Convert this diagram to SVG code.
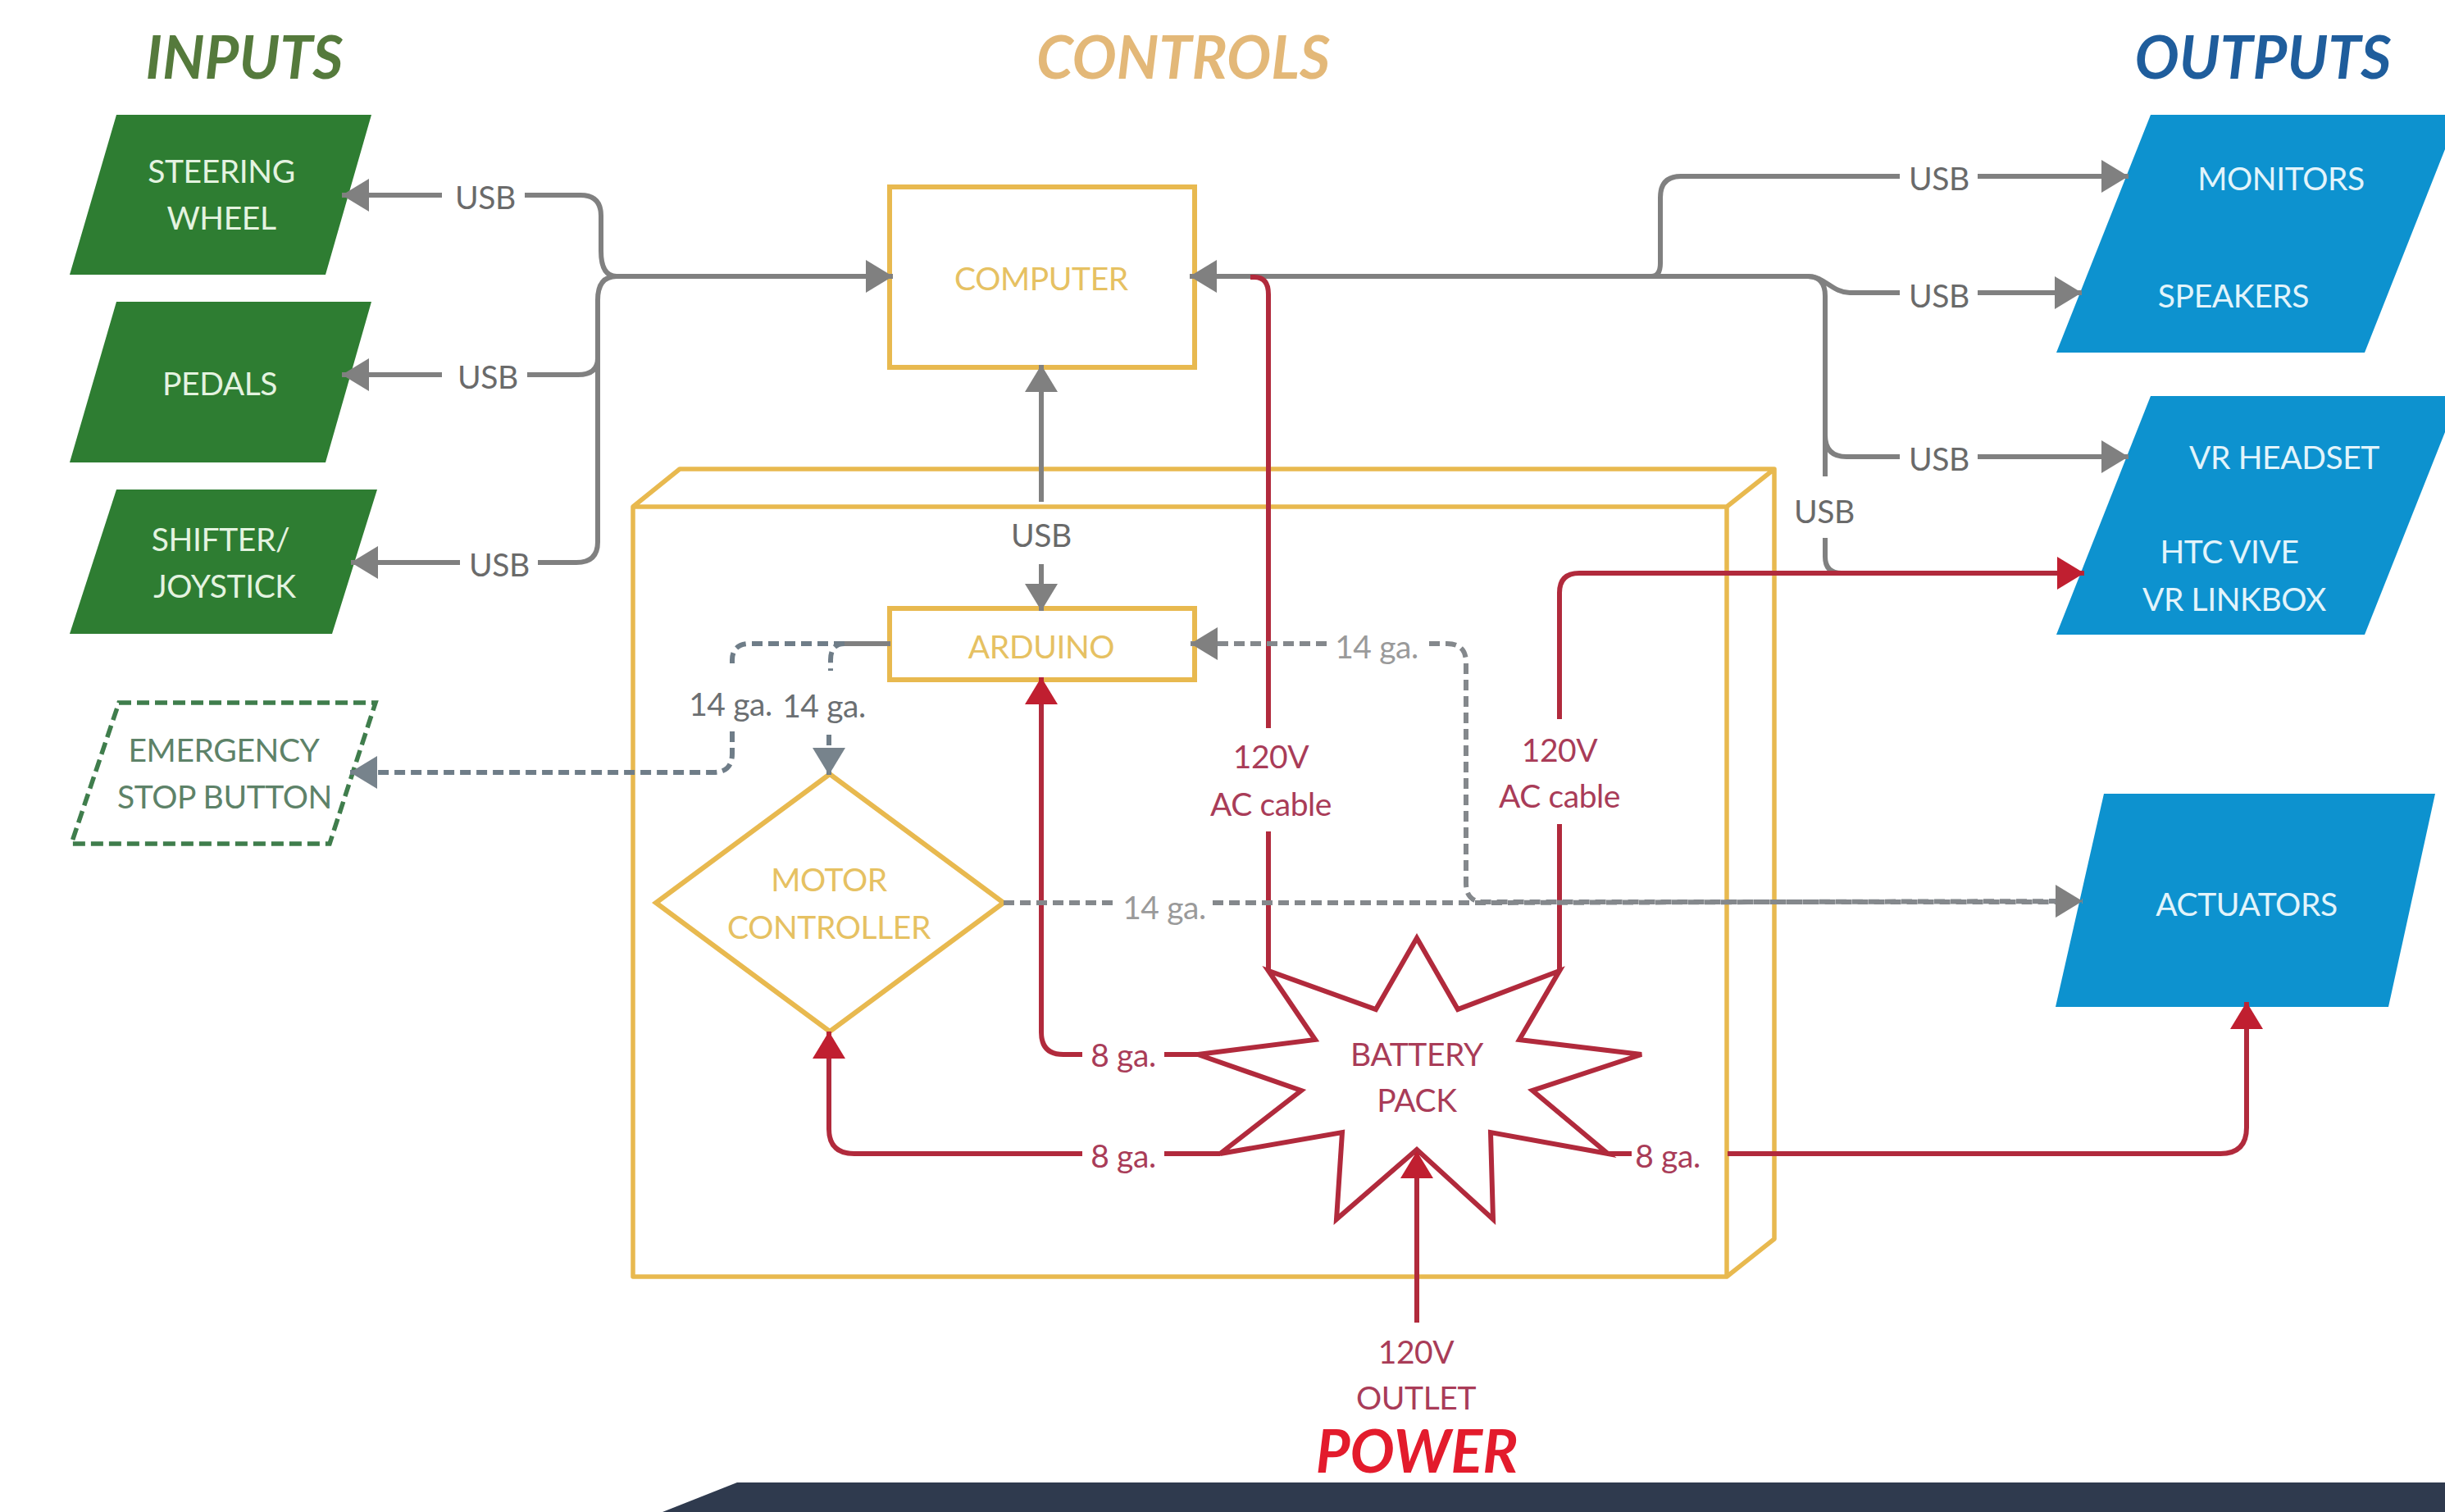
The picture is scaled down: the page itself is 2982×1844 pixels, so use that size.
<svg xmlns="http://www.w3.org/2000/svg" width="2982" height="1844" viewBox="0 0 2982 1844">
<style>
text{font-family:Lato,"Open Sans","Liberation Sans",sans-serif;font-size:39px;letter-spacing:-.4px;text-anchor:middle;transform:translateY(.5px)}
.title{font-size:72px;font-style:italic;font-weight:700;letter-spacing:0;transform:none}
.lt{fill:#e4f3e0}.lb{fill:#e2f4fb}.y{fill:#e6c162}.g{fill:#6a6a6a}.lg{fill:#9a9a9a}.dg{fill:#6b6f72}.r{fill:#a93c58}.eg{fill:#5d8268}
.gl,.rl,.dl,.bl{fill:none;stroke-width:6;stroke-linejoin:round}
.gl{stroke:#808080}.rl{stroke:#b12a3c}.dl{stroke:#84888c;stroke-dasharray:13 7}.bl{stroke:#6f7d88;stroke-dasharray:13 7}
.box{fill:#fff;stroke:#e8b94f;stroke-width:6}
.yl{fill:none;stroke:#e8b94f;stroke-width:5.5;stroke-linejoin:round}
</style>
<defs>
<marker id="ag" markerUnits="userSpaceOnUse" markerWidth="34" markerHeight="40" refX="33" refY="20" orient="auto"><path d="M0 0L33 20L0 40Z" fill="#808080"/></marker>
<marker id="ab" markerUnits="userSpaceOnUse" markerWidth="34" markerHeight="40" refX="33" refY="20" orient="auto"><path d="M0 0L33 20L0 40Z" fill="#77838c"/></marker>
<marker id="ar" markerUnits="userSpaceOnUse" markerWidth="34" markerHeight="40" refX="33" refY="20" orient="auto"><path d="M0 0L33 20L0 40Z" fill="#c01f30"/></marker>
</defs>
<rect width="2982" height="1844" fill="#fff"/>

<g id="titles">
<text class="title" x="298" y="96" fill="#557a3c">INPUTS</text>
<text class="title" x="1443" y="96" fill="#e3b878">CONTROLS</text>
<text class="title" x="2760" y="96" fill="#1f5d9c">OUTPUTS</text>
<text class="title" x="1728" y="1796" fill="#e31b2c">POWER</text>
</g>

<g id="enclosure">
<path class="yl" d="M772 618L829 572H2164V1511L2106 1557H772ZM772 618H2106V1557M2106 618L2164 572"/>
</g>

<g id="steering-wheel"><polygon points="142,140 453,140 397,335 85,335" fill="#2e7d32"/><text class="lt" x="270" y="222">STEERING</text><text class="lt" x="270" y="279">WHEEL</text></g>
<g id="pedals"><polygon points="142,368 453,368 397,564 85,564" fill="#2e7d32"/><text class="lt" x="268" y="481">PEDALS</text></g>
<g id="shifter"><polygon points="142,597 460,597 405,773 85,773" fill="#2e7d32"/><text class="lt" x="269" y="671">SHIFTER/</text><text class="lt" x="274" y="728">JOYSTICK</text></g>
<g id="emergency-stop"><polygon points="145,857 458,857 402,1029 87,1029" fill="#fff" stroke="#3f7d4c" stroke-width="5.5" stroke-dasharray="15 7"/><text class="eg" x="273" y="928">EMERGENCY</text><text class="eg" x="274" y="985">STOP BUTTON</text></g>

<g id="computer"><rect class="box" x="1085" y="228" width="372" height="220"/><text class="y" x="1270" y="353">COMPUTER</text></g>
<g id="arduino"><rect class="box" x="1085" y="742" width="372" height="87"/><text class="y" x="1270" y="802">ARDUINO</text></g>
<g id="motor-controller"><polygon class="box" points="1012,944 1224,1101 1012,1258 800,1101"/><text class="y" x="1011" y="1086">MOTOR</text><text class="y" x="1011" y="1144">CONTROLLER</text></g>
<g id="battery-pack"><polygon points="1728,1144 1778,1231 1902,1184 1853,1268 2002,1286 1869,1330 1961,1407 1818,1381 1821,1487 1728,1402 1630,1487 1637,1381 1488,1407 1587,1330 1461,1286 1604,1268 1547,1184 1678,1231" fill="#fff" stroke="#b12a3c" stroke-width="6" stroke-linejoin="miter"/><text class="r" x="1728" y="1299">BATTERY</text><text class="r" x="1728" y="1355">PACK</text></g>

<g id="monitors-speakers"><polygon points="2623,140 2982,140 2982,182 2884,430 2508,430" fill="#0d92cf"/><text class="lb" x="2782" y="231">MONITORS</text><text class="lb" x="2724" y="374">SPEAKERS</text></g>
<g id="vr"><polygon points="2623,483 2982,483 2982,527 2884,774 2508,774" fill="#0d92cf"/><text class="lb" x="2786" y="571">VR HEADSET</text><text class="lb" x="2719" y="686">HTC VIVE</text><text class="lb" x="2725" y="744">VR LINKBOX</text></g>
<g id="actuators"><polygon points="2566,968 2970,968 2913,1228 2507,1228" fill="#0d92cf"/><text class="lb" x="2740" y="1116">ACTUATORS</text></g>

<g id="connectors">
<path class="gl" marker-end="url(#ag)" d="M539 238H417"/>
<path class="gl" d="M640 238H708Q733 238 733 263V306Q733 337 752 337"/>
<path class="gl" marker-end="url(#ag)" d="M539 457H417"/>
<path class="gl" d="M643 457H705Q729 457 729 437"/>
<path class="gl" marker-end="url(#ag)" d="M561 686H428"/>
<path class="gl" d="M656 686H703Q729 686 729 661V366Q729 337 752 337"/>
<path class="gl" marker-end="url(#ag)" d="M752 337H1089"/>
<path class="gl" marker-end="url(#ag)" d="M2190 337H1451"/>
<path class="gl" d="M2014 337Q2025 337 2025 321V241Q2025 215 2050 215H2317"/>
<path class="gl" marker-end="url(#ag)" d="M2412 215H2596"/>
<path class="gl" d="M2190 337H2205C2225 337 2235 357 2256 357H2317"/>
<path class="gl" marker-end="url(#ag)" d="M2412 357H2539"/>
<path class="gl" d="M2205 337Q2226 337 2226 361V581"/>
<path class="gl" d="M2226 531Q2226 557 2252 557H2317"/>
<path class="gl" marker-end="url(#ag)" d="M2412 557H2596"/>
<path class="gl" d="M2226 656V679Q2226 699 2246 699"/>
<path class="gl" marker-end="url(#ag)" d="M1270 612V445"/>
<path class="gl" marker-end="url(#ag)" d="M1270 688V745"/>
<path class="rl" d="M1525 338H1530Q1547 338 1547 359V888"/>
<path class="rl" d="M1547 1014V1184"/>
<path class="rl" d="M1902 877V723Q1902 699 1926 699H2510"/>
<path class="rl" marker-end="url(#ar)" d="M2490 699H2542"/>
<path class="rl" d="M1902 1005V1184"/>
<path class="rl" marker-end="url(#ar)" d="M1320 1286H1297Q1270 1286 1270 1259V826"/>
<path class="rl" d="M1420 1286H1461"/>
<path class="rl" marker-end="url(#ar)" d="M1320 1407H1042Q1011 1407 1011 1377V1258"/>
<path class="rl" d="M1420 1407H1488"/>
<path class="rl" d="M1961 1407H1990"/>
<path class="rl" marker-end="url(#ar)" d="M2107 1407H2708Q2740 1407 2740 1375V1222"/>
<path class="rl" marker-end="url(#ar)" d="M1728 1613V1404"/>
<path class="gl" d="M1086 785H1030"/>
<path class="bl" d="M1030 785H915Q893 785 893 805V815"/>
<path class="bl" marker-end="url(#ab)" d="M893 892V919Q893 942 870 942H427"/>
<path class="bl" d="M1030 785Q1013 785 1013 805V818"/>
<path class="bl" marker-end="url(#ab)" d="M1011 896V945"/>
<path class="dl" marker-end="url(#ag)" d="M1618 785H1452"/>
<path class="dl" d="M1743 785H1765Q1788 785 1788 808V1077Q1788 1100 1810 1100H2511"/>
<path class="dl" d="M1224 1101H1359"/>
<path class="dl" marker-end="url(#ag)" d="M1479 1101H1800L2540 1099"/>
</g>

<g id="labels">
<text class="g" x="592" y="254">USB</text>
<text class="g" x="595" y="473">USB</text>
<text class="g" x="609" y="702">USB</text>
<text class="g" x="1270" y="666">USB</text>
<text class="g" x="2365" y="231">USB</text>
<text class="g" x="2365" y="374">USB</text>
<text class="g" x="2365" y="573">USB</text>
<text class="g" x="2225" y="637">USB</text>
<text class="dg" x="891" y="872">14 ga.</text>
<text class="dg" x="1005" y="874">14 ga.</text>
<text class="lg" x="1679" y="802">14 ga.</text>
<text class="lg" x="1420" y="1120">14 ga.</text>
<text class="r" x="1550" y="936">120V</text>
<text class="r" x="1550" y="994">AC cable</text>
<text class="r" x="1902" y="928">120V</text>
<text class="r" x="1902" y="984">AC cable</text>
<text class="r" x="1370" y="1300">8 ga.</text>
<text class="r" x="1370" y="1423">8 ga.</text>
<text class="r" x="2034" y="1423">8 ga.</text>
<text class="r" x="1727" y="1662">120V</text>
<text class="r" x="1727" y="1718">OUTLET</text>
</g>

<g id="footer"><polygon points="899,1808 2982,1808 2982,1844 808,1844" fill="#2f3a4e"/></g>
</svg>
